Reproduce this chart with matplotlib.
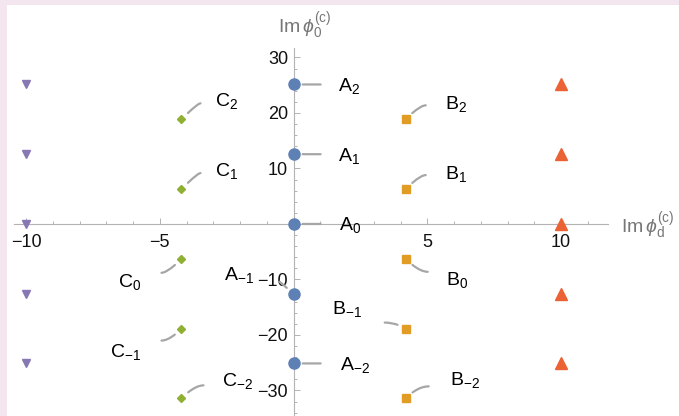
import matplotlib
matplotlib.use("Agg")
import matplotlib.pyplot as plt
from matplotlib.patches import Rectangle

plt.rcParams["font.family"] = ["Liberation Sans", "DejaVu Sans"]
plt.rcParams["mathtext.fontset"] = "custom"
plt.rcParams["mathtext.rm"] = "Liberation Sans"
plt.rcParams["mathtext.it"] = "Liberation Sans:italic"
plt.rcParams["mathtext.fallback"] = "stix"

# ---- data ----
a_x = [0, 0, 0, 0, 0]
a_y = [25.13, 12.57, 0.0, -12.57, -25.13]
b_x = [4.19, 4.19, 4.19, 4.19, 4.19]
b_y = [18.85, 6.28, -6.28, -18.85, -31.42]
c_x = [-4.19, -4.19, -4.19, -4.19, -4.19]
c_y = [18.85, 6.28, -6.28, -18.85, -31.42]
d_x = [10, 10, 10, 10, 10]
d_y = [25.13, 12.57, 0.0, -12.57, -25.13]
e_x = [-10, -10, -10, -10, -10]
e_y = [25.13, 12.57, 0.0, -12.57, -25.13]

a_names = ["2", "1", "0", "-1", "-2"]
b_names = ["2", "1", "0", "-1", "-2"]
c_names = ["2", "1", "0", "-1", "-2"]

x_ticks = [-10, -5, 5, 10]
y_ticks = [-30, -20, -10, 10, 20, 30]

# ---- callout layout, in pixels: text (dx, dy_down, ha), leader end (dx, dy_down), leader angle at point
a_layout = [((44, 7, "left"), (27, 0), None),
            ((44, 7, "left"), (27, 0), None),
            ((45, 6, "left"), (27, 0), None),
            ((-40, -14, "right"), (-14, -12), None),
            ((46, 7, "left"), (27, 0), None)]
b_layout = [((39, -10, "left"), (20, -14), 45),
            ((39, -10, "left"), (20, -14), 45),
            ((40, 26, "left"), (22, 13), -45),
            ((-44, -15, "right"), (-21, -6), 150),
            ((44, -13, "left"), (23, -12), 45)]
c_layout = [((34, -13, "left"), (19, -16), 45),
            ((34, -13, "left"), (19, -16), 45),
            ((-40, 28, "right"), (-20, 14), -135),
            ((-40, 28, "right"), (-20, 12), -135),
            ((41, -12, "left"), (22, -13), 45)]

BLUE, ORANGE, GREEN, RED, PURPLE = "#5E81B5", "#E19C24", "#8FB032", "#EB6235", "#8778B3"
AXIS = "#b3b3b3"
LEADER = "#a6a6a6"
PX = 0.72  # points per pixel at dpi 100

fig = plt.figure(figsize=(6.79, 4.16), dpi=100)
fig.patch.set_facecolor("#f4e6ee")
fig.add_artist(Rectangle((7 / 679, 0), 1, 411 / 416, transform=fig.transFigure,
                         facecolor="white", edgecolor="none", zorder=0))

ax = fig.add_axes([14 / 679, 0, 594 / 679, 368 / 416])
ax.set_facecolor("none")
ax.set_xlim(-10.45, 11.75)
ax.set_ylim(-34.6, 31.7)

for side in ("top", "right"):
    ax.spines[side].set_visible(False)
for side in ("left", "bottom"):
    ax.spines[side].set_position(("data", 0))
    ax.spines[side].set_color(AXIS)
    ax.spines[side].set_linewidth(0.8)

ax.set_xticks(x_ticks)
ax.set_yticks(y_ticks)
ax.set_xticks(range(-10, 12), minor=True)
ax.set_yticks(range(-34, 32, 2), minor=True)
ax.tick_params(which="both", direction="in", color=AXIS, width=0.7)
ax.tick_params(which="major", length=4, labelsize=13, labelcolor="#111111")
ax.tick_params(which="minor", length=2.5)
ax.tick_params(axis="x", pad=7)
ax.tick_params(axis="y", pad=4)

ax.plot(e_x, e_y, "v", color=PURPLE, ms=6, ls="none", clip_on=False, zorder=3)
ax.plot(d_x, d_y, "^", color=RED, ms=8, ls="none", clip_on=False, zorder=3)
ax.plot(a_x, a_y, "o", color=BLUE, ms=8, ls="none", clip_on=False, zorder=3)
ax.plot(b_x, b_y, "s", color=ORANGE, ms=5.5, ls="none", clip_on=False, zorder=3)
ax.plot(c_x, c_y, "D", color=GREEN, ms=4, ls="none", clip_on=False, zorder=3)


def callouts(xs, ys, letter, names, layout):
    for x, y, n, ((tx, ty, ha), (lx, ly), ang) in zip(xs, ys, names, layout):
        ax.annotate(r"$\mathrm{%s}_{%s}$" % (letter, n), xy=(x, y),
                    xytext=(tx * PX, -ty * PX), textcoords="offset points",
                    ha=ha, va="baseline", fontsize=14, color="black")
        if ang is None:
            conn = "arc3,rad=0"
        else:
            conn = "angle3,angleA=0,angleB=%d" % ang
        ax.annotate("", xy=(x, y), xytext=(lx * PX, -ly * PX),
                    textcoords="offset points",
                    arrowprops=dict(arrowstyle="-", color=LEADER, lw=1.6,
                                    shrinkA=0, shrinkB=6.5, connectionstyle=conn))


callouts(a_x, a_y, "A", a_names, a_layout)
callouts(b_x, b_y, "B", b_names, b_layout)
callouts(c_x, c_y, "C", c_names, c_layout)

fig.text(621 / 679, 1 - 233 / 416, r"$\mathrm{Im}\,\phi_{\mathrm{d}}^{(\mathrm{c})}$",
         ha="left", va="baseline", fontsize=14, color="#777777")
fig.text(278 / 679, 1 - 33 / 416, r"$\mathrm{Im}\,\phi_{0}^{(\mathrm{c})}$",
         ha="left", va="baseline", fontsize=14, color="#777777")

fig.savefig("out.png", dpi=100, facecolor=fig.get_facecolor())
